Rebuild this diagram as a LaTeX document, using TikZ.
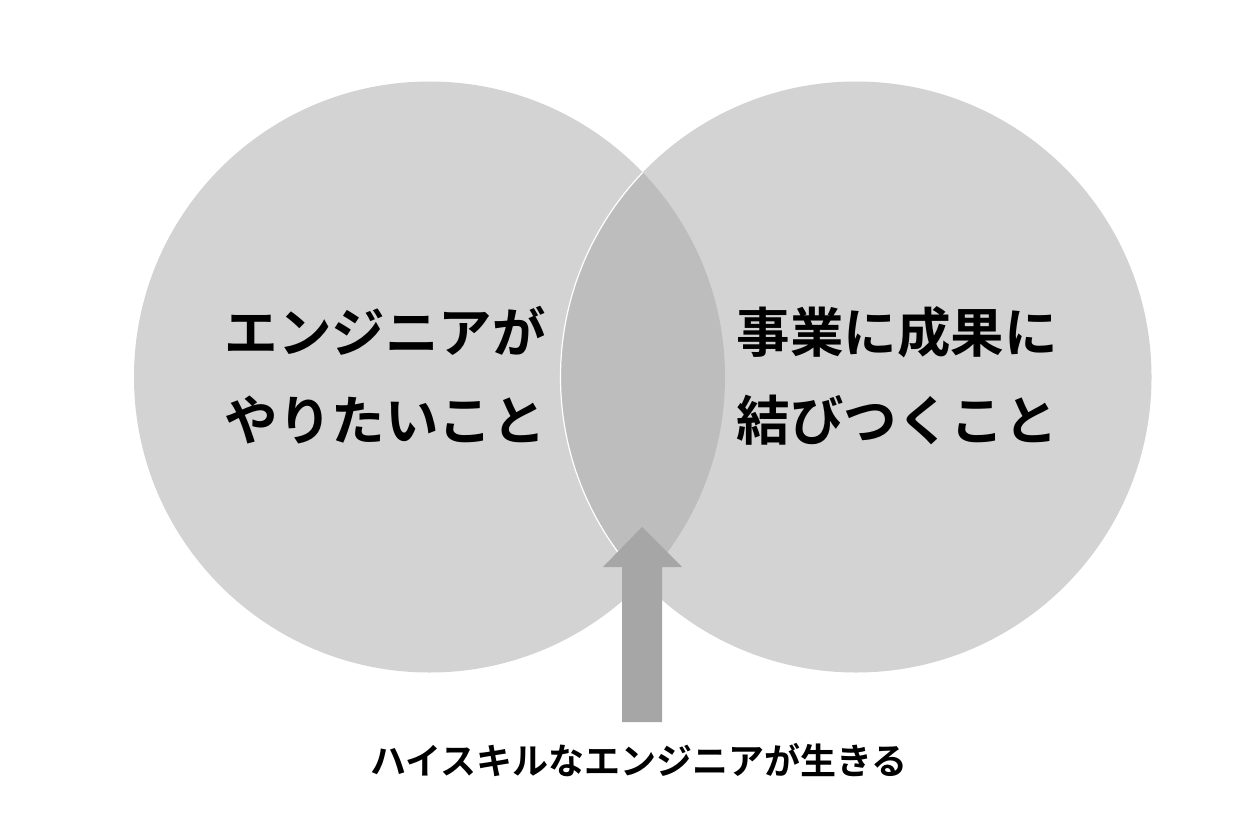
\documentclass[tikz,border=0pt]{standalone}
\usepackage{fontspec}
\newfontfamily\jpbold{Noto Sans CJK JP Bold}
\definecolor{circ}{HTML}{D3D3D3}
\definecolor{lens}{HTML}{BDBDBD}
\definecolor{arr}{HTML}{A6A6A6}
\tikzset{
  bigtext/.style={font=\jpbold\fontsize{53.5}{53.5}\selectfont, anchor=base, inner sep=0pt, text=black},
  smalltext/.style={font=\jpbold\fontsize{36}{36}\selectfont, anchor=base, inner sep=0pt, text=black},
}
\begin{document}
\begin{tikzpicture}[x=1pt,y=-1pt]
\useasboundingbox (0,0) rectangle (1260,840);
\fill[white] (0,0) rectangle (1260,840);
\coordinate (cl) at (429.5,377);
\coordinate (cr) at (856,377);
\fill[circ] (cl) circle[radius=295.5];
\fill[circ] (cr) circle[radius=295.5];
\begin{scope}
  \clip (cl) circle[radius=295.5];
  \fill[lens] (cr) circle[radius=295.5];
  \draw[white, line width=1.2pt] (cr) circle[radius=295.5];
\end{scope}
% arrow
\fill[arr] (642,527) -- (682,567) -- (662,567) -- (662,722) -- (622,722) -- (622,567) -- (603,567) -- cycle;
\node[bigtext] (l1) at (385,352) {エンジニアが};
\node[bigtext] (l2) at (385,440) {やりたいこと};
\node[bigtext] (r1) at (897,352) {事業に成果に};
\node[bigtext] (r2) at (897,440) {結びつくこと};
\node[smalltext] (b) at (639,774) {ハイスキルなエンジニアが生きる};
\end{tikzpicture}
\end{document}
